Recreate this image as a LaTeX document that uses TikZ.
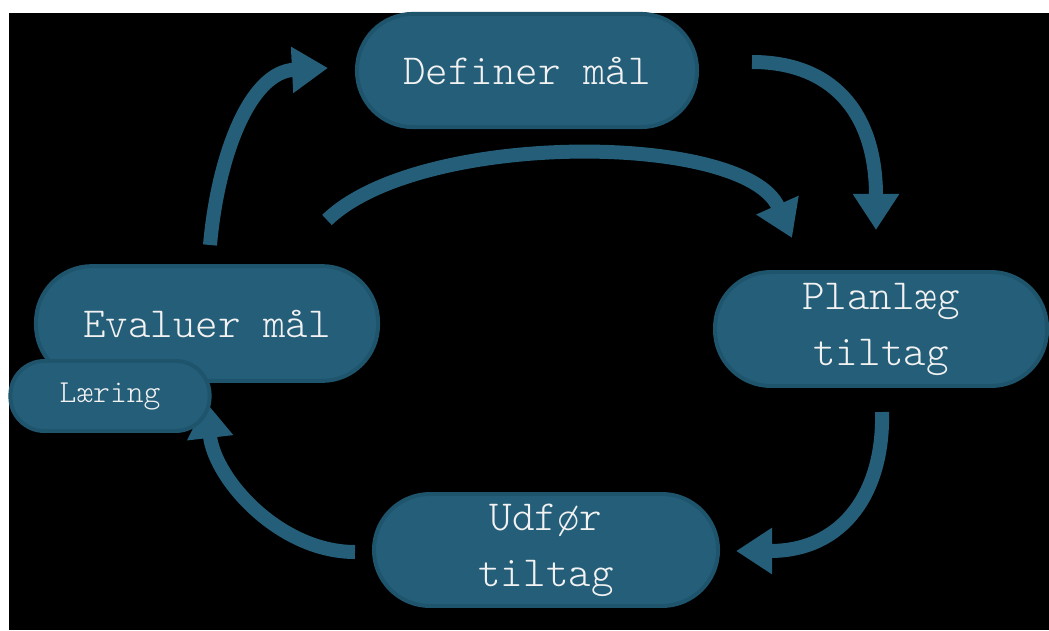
\documentclass[tikz,border=0pt]{standalone}
\usepackage{fontspec}
\setmonofont{Latin Modern Mono Light}
\usetikzlibrary{arrows.meta}
\definecolor{boxfill}{RGB}{36,94,120}
\definecolor{boxline}{RGB}{30,84,108}
\definecolor{txt}{RGB}{242,242,242}
\begin{document}
\begin{tikzpicture}[x=0.025cm,y=-0.025cm,
  stage/.style={draw=boxline, line width=2.8pt, fill=boxfill, text=txt,
    font=\ttfamily\fontsize{30.5}{39.8}\selectfont, align=center, inner sep=0pt,
    rounded corners=1.4cm},
  small/.style={stage, font=\ttfamily\fontsize{22.8}{28}\selectfont, rounded corners=0.85cm},
  flow/.style={draw=boxfill, line width=0.35cm, -{Triangle[width=1.1cm,length=0.9cm]}}]
\useasboundingbox (0,0) rectangle (1049,630);
\fill[white] (0,0) rectangle (1049,630);
\fill[black] (9,13) rectangle (1049,630);
% arrow end points
\coordinate (a1s) at (210,245);
\coordinate (a1e) at (328,68);
\coordinate (a2s) at (752,62);
\coordinate (a2e) at (876,230);
\coordinate (a3s) at (327,220);
\coordinate (a3e) at (792,238);
\coordinate (a4s) at (882,412);
\coordinate (a4e) at (736,551);
\coordinate (a5s) at (355,552);
\coordinate (a5e) at (206,402);
\draw[flow] (a1s) .. controls (218,155) and (250,72) .. (a1e);
\draw[flow] (a2s) .. controls (830,62) and (876,110) .. (a2e);
\draw[flow] (a3s) .. controls (420,130) and (745,132) .. (a3e);
\draw[flow] (a4s) .. controls (884,490) and (845,551) .. (a4e);
\draw[flow] (a5s) .. controls (280,552) and (215,480) .. (a5e);
% stages
\node[stage, minimum width=8.5cm, minimum height=2.83cm] (def) at (527,70.5) {Definer mål};
\node[stage, minimum width=8.3cm, minimum height=2.85cm] (plan) at (881,329) {Planlæg\\tiltag};
\node[stage, minimum width=8.6cm, minimum height=2.8cm] (udf) at (546,550) {Udfør\\tiltag};
\node[stage, minimum width=8.55cm, minimum height=2.87cm] (eval) at (207,323.5) {Evaluer mål};
\node[small, minimum width=4.98cm, minimum height=1.75cm] (laer) at (110,396) {Læring};
\end{tikzpicture}
\end{document}
